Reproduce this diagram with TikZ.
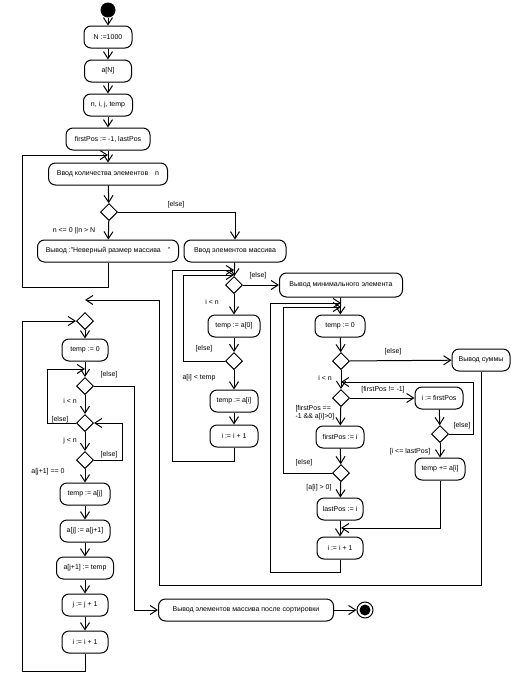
\documentclass[tikz,border=0pt]{standalone}
\usepackage{fontspec}
\setmainfont{Liberation Sans}
\usetikzlibrary{shapes.geometric,arrows.meta}
\tikzset{
  act/.style={draw,rounded corners=7pt,minimum height=22pt,inner xsep=4pt,font=\fontsize{7}{8}\selectfont},
  dec/.style={draw,diamond,aspect=1,minimum size=17pt,inner sep=0pt},
  lbl/.style={font=\fontsize{7}{8}\selectfont,inner sep=0pt},
  arr/.style={-{Straight Barb[length=7pt,width=9pt]}},
}
\begin{document}
\begin{tikzpicture}[x=1pt,y=-1pt,line width=1pt]
			\useasboundingbox (0,0) rectangle (513,681);
			% input
			\node[circle,fill,minimum size=15pt,inner sep=0pt] (start) at (108,10) {};
			\node[act,minimum width=48pt] (n1) at (108,37) {N :=1000};
			\node[act,minimum width=47pt] (n2) at (108,71) {a[N]};
			\node[act,minimum width=49pt] (n3) at (108,105) {n, i, j, temp};
			\node[act,minimum width=84pt] (n4) at (108,139) {firstPos := -1, lastPos};
			\node[act,minimum width=119pt] (n5) at (108,174) {Ввод количества элементов\quad n};
			\node[dec] (d1) at (109,212) {};
			\node[act,minimum width=141pt] (n6) at (108,251) {Вывод :"Неверный размер массива\quad"};
			\node[act,minimum width=102pt] (n7) at (235,251) {Ввод элементов массива};
			% minimum
			\node[dec] (d2) at (234,285) {};
			\node[act,minimum width=123pt,minimum height=24pt] (n8) at (341,285) {Вывод минимального элемента};
			\node[act,minimum width=52pt] (n9) at (234,326) {temp := a[0]};
			\node[dec] (d3) at (234,361) {};
			\node[act,minimum width=48pt] (n10) at (234,401) {temp := a[i]};
			\node[act,minimum width=48pt] (n11) at (234,436) {i := i + 1};
			% sum
			\node[act,minimum width=50pt] (n12) at (340,326) {temp := 0};
			\node[dec] (d4) at (341,361) {};
			\node[act,minimum width=58pt] (n13) at (481,360) {Вывод суммы};
			\node[dec] (d5) at (341,398) {};
			\node[act,minimum width=48pt] (n14) at (439,398) {i := firstPos};
			\node[dec] (d6) at (440,434) {};
			\node[act,minimum width=50pt] (n15) at (440,469) {temp += a[i]};
			\node[act,minimum width=48pt] (n16) at (340,437) {firstPos := i};
			\node[dec] (d7) at (341,473) {};
			\node[act,minimum width=46pt] (n17) at (340,509) {lastPos := i};
			\node[act,minimum width=46pt] (n18) at (340,548) {i := i + 1};
			% sort
			\node[dec] (sd1) at (85,321) {};
			\node[act,minimum width=46pt] (s1) at (85,350) {temp := 0};
			\node[dec] (sd2) at (85,386) {};
			\node[dec] (sd3) at (85,423) {};
			\node[dec] (sd4) at (85,460) {};
			\node[act,minimum width=50pt] (s2) at (85,494) {temp := a[j]};
			\node[act,minimum width=50pt] (s3) at (85,531) {a[j] := a[j+1]};
			\node[act,minimum width=57pt] (s4) at (85,568) {a[j+1] := temp};
			\node[act,minimum width=46pt] (s5) at (85,605) {j := j + 1};
			\node[act,minimum width=46pt] (s6) at (85,642) {i := i + 1};
			\node[act,minimum width=175pt] (out) at (246,610) {Вывод элементов массива после сортировки};
			\node[circle,draw,minimum size=16pt,inner sep=0pt,
			  path picture={\fill (path picture bounding box.center) circle (5.5pt);}] (stop) at (365,610) {};
			% bends
			\coordinate (j1) at (108,155);
			\coordinate (l1) at (22,287);
			\coordinate (c1) at (183,275);
			\coordinate (c2) at (172,461);
			\coordinate (c3) at (234,270);
			\coordinate (c4) at (473,382);
			\coordinate (c5) at (341,528);
			\coordinate (c6) at (283,307);
			\coordinate (c7) at (270,572);
			\coordinate (c8) at (341,303);
			\coordinate (c9) at (159,585);
			\coordinate (c10) at (85,300);
			\coordinate (c11) at (22,671);
			\coordinate (c12) at (47,369);
			\coordinate (c13) at (134,610);
			\coordinate (c14) at (122,423);
			% flow
			\draw[arr] (start) -- (n1);
			\draw[arr] (n1) -- (n2);
			\draw[arr] (n2) -- (n3);
			\draw[arr] (n3) -- (n4);
			\draw[arr] (n4) -- (n5);
			\draw[arr] (n5) -- (d1);
			\draw[arr] (d1) -- (n6);
			\draw[arr] (d1) -| (n7);
			\draw[arr] (n6) |- (l1) |- (j1);
			\draw[arr] (n7) -- (d2);
			\draw[arr] (d2) -- (n8);
			\draw[arr] (d2) -- (n9);
			\draw[arr] (n9) -- (d3);
			\draw[arr] (d3) -- (n10);
			\draw[arr] (n10) -- (n11);
			\draw[arr] (d3) -| (c1) -- (c1 -| d2);
			\draw[arr] (n11) |- (c2) |- (c3);
			\draw[arr] (n8) -- (n12);
			\draw[arr] (n12) -- (d4);
			\draw[arr] (d4) -- (n13);
			\draw[arr] (d4) -- (d5);
			\draw[arr] (d5) -- (n14);
			\draw[arr] (n14) -- (d6);
			\draw[arr] (d6) -- (n15);
			\draw[arr] (d6) -| (c4) -- (c4 -| d5);
			\draw[arr] (d5) -- (n16);
			\draw[arr] (n16) -- (d7);
			\draw[arr] (d7) -- (n17);
			\draw[arr] (n17) -- (n18);
			\draw[arr] (n15) |- (c5);
			\draw[arr] (d7) -| (c6) -- (c6 -| d7);
			\draw[arr] (n18) |- (c7) |- (c8);
			\draw[arr] (n13) |- (c9) |- (c10);
			\draw[arr] (sd1) -- (s1);
			\draw[arr] (s6) |- (c11) |- (sd1);
			\draw[arr] (s1) -- (sd2);
			\draw[arr] (sd2) -- (sd3);
			\draw[arr] (sd3) -| (c12) -- (c12 -| sd2);
			\draw[arr] (sd2) -| (c13) -- (out);
			\draw[arr] (sd3) -- (sd4);
			\draw[arr] (sd4) -| (c14) -- (sd3);
			\draw[arr] (sd4) -- (s2);
			\draw[arr] (s2) -- (s3);
			\draw[arr] (s3) -- (s4);
			\draw[arr] (s4) -- (s5);
			\draw[arr] (s5) -- (s6);
			\draw[arr] (out) -- (stop);
			% guards
			\node[lbl] (g1) at (176,205) {[else]};
			\node[lbl] (g2) at (74,231) {n <= 0 ||n > N};
			\node[lbl] (g3) at (258,276) {[else]};
			\node[lbl] (g4) at (212,302) {i < n};
			\node[lbl] (g5) at (204,349) {[else]};
			\node[lbl] (g6) at (199,378) {a[i] < temp};
			\node[lbl] (g7) at (393,352) {[else]};
			\node[lbl] (g8) at (325,378) {i < n};
			\node[lbl] (g9) at (383,390) {[firstPos != -1]};
			\node[lbl,align=left,anchor=west] (g10) at (295,413) {[firstPos ==\\-1 \&\& a[i]>0]};
			\node[lbl] (g11) at (462,426) {[else]};
			\node[lbl] (g12) at (410,452) {[i <= lastPos]};
			\node[lbl] (g13) at (304,463) {[else]};
			\node[lbl] (g14) at (319,488) {[a[i] > 0]};
			\node[lbl] (g15) at (109,375) {[else]};
			\node[lbl] (g16) at (70,401) {i < n};
			\node[lbl] (g17) at (60,420) {[else]};
			\node[lbl] (g18) at (70,441) {j < n};
			\node[lbl] (g19) at (109,455) {[else]};
			\node[lbl] (g20) at (48,472) {a[j+1] == 0};
		\end{tikzpicture}
\end{document}
